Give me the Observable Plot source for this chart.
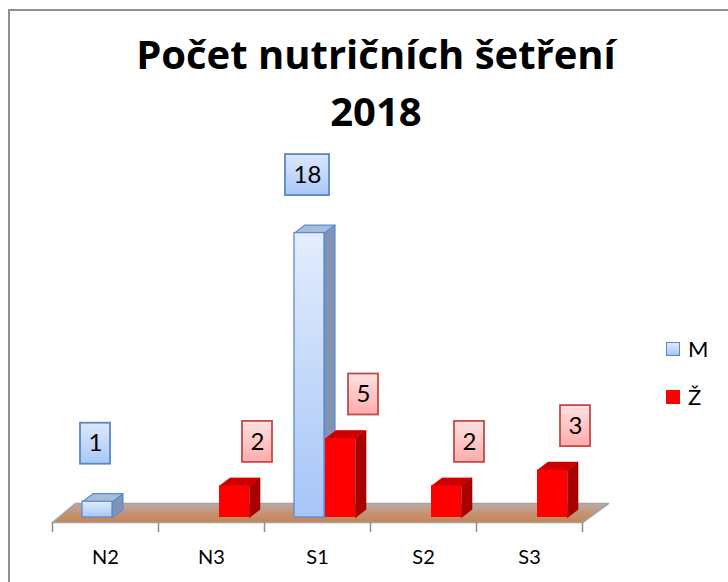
<!DOCTYPE html>
<html>
<head>
<meta charset="utf-8">
<script src="https://cdn.jsdelivr.net/npm/d3@7"></script>
<script src="https://cdn.jsdelivr.net/npm/@observablehq/plot@0.6"></script>
<style>
  body { margin: 0; background: #fff; }
  #wrap { position: relative; width: 728px; height: 582px; overflow: hidden; background: #fff; font-family: Lato, "Open Sans", sans-serif; }
  #frame { position: absolute; left: 8px; top: 9px; width: 760px; height: 620px; border: 2px solid #8f8f8f; box-sizing: border-box; }
  #title { position: absolute; left: 0; top: 25px; width: 752px; text-align: center; font-family: "Open Sans", sans-serif; font-weight: 700; font-size: 40px; line-height: 57px; color: #000; }
  #chart { position: absolute; left: 0; top: 0; }
  .leg { position: absolute; left: 666px; height: 22px; font-size: 22px; line-height: 22px; color: #000; }
  .leg .sw { position: absolute; left: 0; top: 4px; width: 14px; height: 14px; box-sizing: border-box; }
  .leg .lt { position: absolute; left: 22px; top: 0; white-space: nowrap; }
</style>
</head>
<body>
<div id="wrap">
  <div id="frame"></div>
  <div id="chart"></div>
  <div id="title"></div>
  <div id="legend"></div>
</div>
<script>
// ---- data ----
const categories = ["N2", "N3", "S1", "S2", "S3"];
const seriesNames = ["M", "Ž"];
const valuesM = [1, null, 18, null, null];
const valuesZ = [null, 2, 5, 2, 3];
const titleLines = ["Počet nutričních šetření", "2018"];

// ---- geometry (pixels) ----
const X0 = 52, X1 = 582, Y0 = 517, YMAX = 24, PY = 15.8;
const PX = (X1 - X0) / categories.length;
const ux = p => p / PX, uy = p => p / PY;
const BAR_W = 30, DEPTH_X = 10.5, DEPTH_Y = 8;

const series = [
  { name: seriesNames[0], values: valuesM, off: 30, front: "url(#mFront)", side: "#8194b2", top: "#a9bcd8", stroke: "#5b8bd4", box: "url(#mBox)", boxStroke: "#5a86c6", lx: -2, ly: 58 },
  { name: seriesNames[1], values: valuesZ, off: 61, front: "#ff0000", side: "#a90000", top: "#cc0000", stroke: "none", box: "url(#zBox)", boxStroke: "#c24a48", lx: 23, ly: 44 }
];

// floor polygon
const fy = -uy(5), by = uy(14);
const floor = [
  { x: 0, y: fy }, { x: categories.length, y: fy },
  { x: categories.length + ux(26), y: by }, { x: ux(23), y: by }, { x: 0, y: fy }
];

const marks = [
  Plot.line(floor, { x: "x", y: "y", fill: "url(#floorGrad)", stroke: "#a2a2a2", strokeWidth: 1.6 }),
  Plot.ruleX(d3.range(categories.length + 1), { y1: fy, y2: fy - uy(10), stroke: "#8c8c8c", strokeWidth: 1.5 })
];

const boxes = [];
series.forEach((s, si) => {
  const fronts = [], sides = [], tops = [];
  s.values.forEach((v, i) => {
    if (v == null) return;
    const xs = i + ux(s.off), xe = xs + ux(BAR_W), dx = ux(DEPTH_X), dy = uy(DEPTH_Y);
    const id = si + "-" + i;
    fronts.push({ x1: xs, x2: xe, y1: 0, y2: v });
    [[xe, 0], [xe + dx, dy], [xe + dx, v + dy], [xe, v], [xe, 0]].forEach(([x, y]) => sides.push({ id, x, y }));
    [[xs, v], [xe, v], [xe + dx, v + dy], [xs + dx, v + dy], [xs, v]].forEach(([x, y]) => tops.push({ id, x, y }));
    const label = String(v);
    const w = 16 + 14 * label.length, h = 41;
    const cx = (xs + xe) / 2 + ux(s.lx), cy = v + uy(s.ly);
    boxes.push({ s, label, x1: cx - ux(w / 2), x2: cx + ux(w / 2), y1: cy - uy(h / 2), y2: cy + uy(h / 2), cx, cy });
  });
  marks.push(
    Plot.line(sides, { x: "x", y: "y", z: "id", fill: s.side, stroke: s.stroke === "none" ? s.side : s.stroke, strokeWidth: s.stroke === "none" ? 0.6 : 1.2 }),
    Plot.line(tops, { x: "x", y: "y", z: "id", fill: s.top, stroke: s.stroke === "none" ? s.top : s.stroke, strokeWidth: s.stroke === "none" ? 0.6 : 1.2 }),
    Plot.rect(fronts, { x1: "x1", x2: "x2", y1: "y1", y2: "y2", fill: s.front, stroke: s.stroke, strokeWidth: 1.3 })
  );
});

series.forEach((s, si) => {
  const bs = boxes.filter(b => b.s === s);
  marks.push(
    Plot.rect(bs, { x1: "x1", x2: "x2", y1: "y1", y2: "y2", fill: s.box, stroke: s.boxStroke, strokeWidth: 1.8, ariaLabel: "labelbox" }),
    Plot.text(bs, { x: "cx", y: "cy", text: "label", fontSize: 24, fontFamily: "Lato, sans-serif", fill: "#000" })
  );
});

marks.push(
  Plot.text(categories, { x: (d, i) => i + 0.5, y: () => -uy(40), text: d => d, fontSize: 20, fontFamily: "Lato, sans-serif", fill: "#000" })
);

const chart = Plot.plot({
  width: 728, height: 582,
  x: { domain: [0, categories.length], range: [X0, X1], axis: null },
  y: { domain: [0, YMAX], range: [Y0, Y0 - YMAX * PY], axis: null },
  style: { background: "transparent", overflow: "visible" },
  marks
});
const svgEl = chart.tagName.toLowerCase() === "svg" ? chart : chart.querySelector("svg");
document.getElementById("chart").appendChild(chart);

// gradients & shadow
const svg = d3.select(svgEl);
const defs = svg.insert("defs", ":first-child");
function grad(id, stops) {
  const g = defs.append("linearGradient").attr("id", id).attr("x1", 0).attr("y1", 0).attr("x2", 0).attr("y2", 1);
  stops.forEach(([o, c]) => g.append("stop").attr("offset", o).attr("stop-color", c));
}
grad("mFront", [[0, "#e3edfd"], [1, "#a6c5f7"]]);
grad("mBox", [[0, "#dce8fc"], [1, "#a9c8f6"]]);
grad("zBox", [[0, "#ffe2e2"], [1, "#ffabab"]]);
grad("floorGrad", [[0, "#bea9a4"], [0.45, "#c3967a"], [1, "#c8824f"]]);
const f = defs.append("filter").attr("id", "shadow").attr("x", "-30%").attr("y", "-30%").attr("width", "160%").attr("height", "160%");
f.append("feDropShadow").attr("dx", 2).attr("dy", 3).attr("stdDeviation", 2).attr("flood-color", "#000").attr("flood-opacity", 0.35);
svg.selectAll('g[aria-label="labelbox"]').attr("filter", "url(#shadow)");

// title
document.getElementById("title").innerHTML = titleLines.map(t => `<div>${t}</div>`).join("");

// legend
const legTops = [338, 386];
const swatch = [
  "background:linear-gradient(#e0ebfd,#a8c6f6);border:1.5px solid #5a86c6;",
  "background:#ff0000;"
];
document.getElementById("legend").innerHTML = seriesNames.map((n, i) =>
  `<div class="leg" style="top:${legTops[i]}px"><span class="sw" style="${swatch[i]}"></span><span class="lt">${n}</span></div>`
).join("");
</script>
</body>
</html>
